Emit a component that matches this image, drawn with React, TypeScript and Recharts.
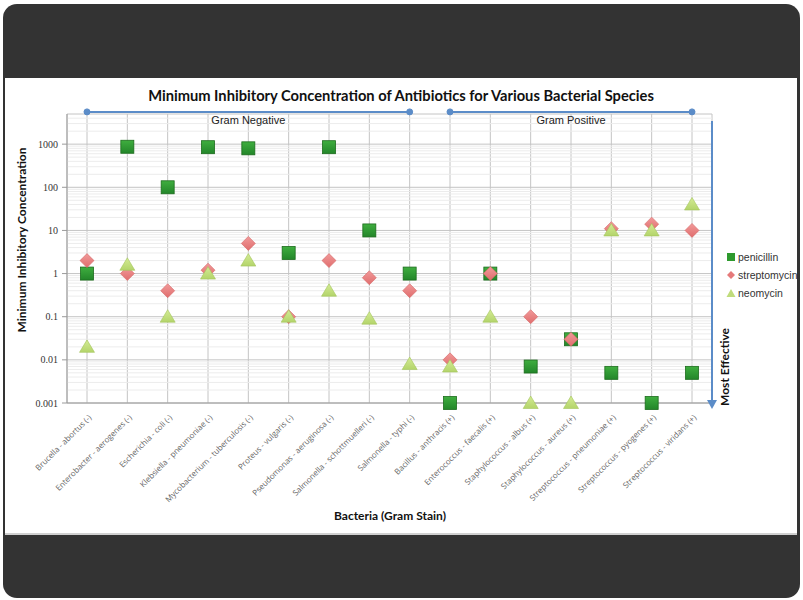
import React from 'react';
import {
  ComposedChart,
  Line,
  XAxis,
  YAxis,
  CartesianGrid,
  ReferenceLine,
  ReferenceDot,
} from 'recharts';

const categories = [
  'Brucella - abortus (-)',
  'Enterobacter - aerogenes (-)',
  'Escherichia - coli (-)',
  'Klebsiella - pneumoniae (-)',
  'Mycobacterium - tuberculosis (-)',
  'Proteus - vulgaris (-)',
  'Pseudomonas - aeruginosa (-)',
  'Salmonella - schottmuelleri (-)',
  'Salmonella - typhi (-)',
  'Bacillus - anthracis (+)',
  'Enterococcus - faecalis (+)',
  'Staphylococcus - albus (+)',
  'Staphylococcus - aureus (+)',
  'Streptococcus - pneumoniae (+)',
  'Streptococcus - pyogenes (+)',
  'Streptococcus - viridans (+)',
];

const penicillin = [1, 870, 100, 850, 800, 3, 850, 10, 1, 0.001, 1, 0.007, 0.03, 0.005, 0.001, 0.005];
const streptomycin = [2, 1, 0.4, 1.2, 5, 0.1, 2, 0.8, 0.4, 0.01, 1, 0.1, 0.03, 11, 14, 10];
const neomycin = [0.02, 1.6, 0.1, 1, 2, 0.1, 0.4, 0.09, 0.008, 0.007, 0.1, 0.001, 0.001, 10, 10, 40];

const yTicks = [0.001, 0.01, 0.1, 1, 10, 100, 1000];
const yTickLabels = ['0.001', '0.01', '0.1', '1', '10', '100', '1000'];
const yDomain = [0.001, 5000];
const minorTicks: number[] = [];
[0.001, 0.01, 0.1, 1, 10, 100, 1000].forEach((d) => {
  for (let m = 2; m <= 9; m++) {
    const v = d * m;
    if (v < 5000) minorTicks.push(v);
  }
});

const seriesNames = ['penicillin', 'streptomycin', 'neomycin'];
const groupNegative = { label: 'Gram Negative', from: 0, to: 8, mid: 4 };
const groupPositive = { label: 'Gram Positive', from: 9, to: 15, mid: 12 };
const bracketLevel = 5600;

const data = categories.map((name, i) => ({
  name,
  penicillin: penicillin[i],
  streptomycin: streptomycin[i],
  neomycin: neomycin[i],
}));

const BLUE = '#5b8cc8';

const SquareDot = (props: any) => {
  const { cx, cy, index } = props;
  if (cx == null || cy == null) return <g key={index} />;
  return (
    <rect key={index} x={cx - 6.5} y={cy - 6.5} width={13} height={13} fill="url(#gradSq)" stroke="#1c6b1c" strokeWidth={0.8} />
  );
};
const DiamondDot = (props: any) => {
  const { cx, cy, index } = props;
  if (cx == null || cy == null) return <g key={index} />;
  const r = 7;
  return (
    <path key={index} d={`M${cx},${cy - r}L${cx + r},${cy}L${cx},${cy + r}L${cx - r},${cy}Z`} fill="url(#gradDi)" stroke="#d56565" strokeWidth={0.6} />
  );
};
const TriangleDot = (props: any) => {
  const { cx, cy, index } = props;
  if (cx == null || cy == null) return <g key={index} />;
  return (
    <path key={index} d={`M${cx},${cy - 7}L${cx + 7.5},${cy + 5.5}L${cx - 7.5},${cy + 5.5}Z`} fill="url(#gradTr)" stroke="#a3c45a" strokeWidth={0.6} />
  );
};

const XTick = (props: any) => {
  const { x, y, payload } = props;
  return (
    <g transform={`translate(${x + 5},${y + 7})`}>
      <text
        x={0}
        y={0}
        transform="rotate(-45)"
        textAnchor="end"
        fontSize={8}
        fontFamily="'Open Sans', sans-serif"
        fill="#666"
      >
        {payload.value}
      </text>
    </g>
  );
};

const YTick = (props: any) => {
  const { x, y, payload } = props;
  const idx = yTicks.indexOf(payload.value);
  return (
    <text x={x - 2} y={y + 3.5} textAnchor="end" fontSize={10} fontFamily="'Liberation Serif', serif" fill="#333">
      {idx >= 0 ? yTickLabels[idx] : payload.value}
    </text>
  );
};

const LegendBox = () => (
  <div
    style={{
      position: 'absolute',
      left: 721,
      top: 170,
      fontFamily: "'Liberation Sans', Arial, sans-serif",
      fontSize: 10.5,
      color: '#333',
      lineHeight: '18px',
      whiteSpace: 'nowrap',
    }}
  >
    {seriesNames.map((n) => (
      <div key={n} style={{ display: 'flex', alignItems: 'center' }}>
        <svg width={10} height={10} style={{ marginRight: 2, flexShrink: 0 }}>
          {n === 'penicillin' && <rect x={1} y={1} width={8} height={8} fill="#2e9a2e" />}
          {n === 'streptomycin' && <path d="M5,1L9,5L5,9L1,5Z" fill="#e57a7a" />}
          {n === 'neomycin' && <path d="M5,1L9.5,9L0.5,9Z" fill="#c0dc7c" />}
        </svg>
        <span>{n}</span>
      </div>
    ))}
  </div>
);

const GroupLabel = (text: string) => (props: any) => {
  const { viewBox } = props;
  const cx = viewBox.x + (viewBox.width || 0) / 2;
  const cy = viewBox.y + (viewBox.height || 0) / 2;
  return (
    <text x={cx} y={cy + 12.5} textAnchor="middle" fontSize={11} fontFamily="'Liberation Sans', Arial, sans-serif" fill="#222">
      {text}
    </text>
  );
};

export default function App() {
  return (
    <div style={{ position: 'fixed', left: 0, top: 0, width: 803, height: 600, background: '#fff' }}>
      <div style={{ position: 'absolute', left: 3, top: 4, width: 797, height: 594, background: '#333333', borderRadius: 14 }} />
      <div style={{ position: 'absolute', left: 5, top: 78, width: 792, height: 455, background: '#fff', borderBottom: '2px solid #d0d0d0' }}>
        <ComposedChart width={792} height={455} data={data} margin={{ top: 36, right: 85, bottom: 20, left: 22 }}>
          <defs>
            <linearGradient id="gradSq" x1="0" y1="0" x2="0" y2="1">
              <stop offset="0%" stopColor="#3fae3f" />
              <stop offset="100%" stopColor="#23862a" />
            </linearGradient>
            <linearGradient id="gradDi" x1="0" y1="0" x2="0" y2="1">
              <stop offset="0%" stopColor="#f19a9a" />
              <stop offset="100%" stopColor="#e06d6d" />
            </linearGradient>
            <linearGradient id="gradTr" x1="0" y1="0" x2="0" y2="1">
              <stop offset="0%" stopColor="#d4eb95" />
              <stop offset="100%" stopColor="#b3d46a" />
            </linearGradient>
          </defs>
          {minorTicks.map((v) => (
            <ReferenceLine key={v} y={v} stroke="#ececec" strokeWidth={1} />
          ))}
          <CartesianGrid stroke="#c4c4c4" strokeWidth={1} />
          <XAxis
            dataKey="name"
            type="category"
            height={110}
            interval={0}
            padding={{ left: 20, right: 20 }}
            tick={<XTick />}
            tickLine={false}
            axisLine={{ stroke: '#9a9a9a' }}
          />
          <YAxis
            type="number"
            scale="log"
            domain={yDomain}
            ticks={yTicks}
            width={40}
            tick={<YTick />}
            tickSize={5}
            tickLine={{ stroke: '#9a9a9a' }}
            axisLine={{ stroke: '#9a9a9a' }}
          />
          <ReferenceLine
            ifOverflow="visible"
            segment={[
              { x: categories[groupNegative.from], y: bracketLevel },
              { x: categories[groupNegative.to], y: bracketLevel },
            ]}
            stroke={BLUE}
            strokeWidth={2}
          />
          <ReferenceLine
            ifOverflow="visible"
            segment={[
              { x: categories[groupPositive.from], y: bracketLevel },
              { x: categories[groupPositive.to], y: bracketLevel },
            ]}
            stroke={BLUE}
            strokeWidth={2}
          />
          {[groupNegative.from, groupNegative.to, groupPositive.from, groupPositive.to].map((i) => (
            <ReferenceDot key={'d' + i} ifOverflow="visible" x={categories[i]} y={bracketLevel} r={3} fill={BLUE} stroke={BLUE} />
          ))}
          <ReferenceDot ifOverflow="visible" x={categories[groupNegative.mid]} y={bracketLevel} r={0.01} fill="none" stroke="none" label={GroupLabel(groupNegative.label)} />
          <ReferenceDot ifOverflow="visible" x={categories[groupPositive.mid]} y={bracketLevel} r={0.01} fill="none" stroke="none" label={GroupLabel(groupPositive.label)} />
          <Line dataKey="penicillin" stroke="none" isAnimationActive={false} dot={<SquareDot />} activeDot={false} legendType="square" />
          <Line dataKey="streptomycin" stroke="none" isAnimationActive={false} dot={<DiamondDot />} activeDot={false} legendType="diamond" />
          <Line dataKey="neomycin" stroke="none" isAnimationActive={false} dot={<TriangleDot />} activeDot={false} legendType="triangle" />
        </ComposedChart>
        <LegendBox />
        <svg width={792} height={455} style={{ position: 'absolute', left: 0, top: 0, pointerEvents: 'none' }}>
          <text x={396} y={23} textAnchor="middle" fontSize={14.7} fontWeight="bold" fontFamily="Lato, 'Open Sans', sans-serif" fill="#111">
            Minimum Inhibitory Concentration of Antibiotics for Various Bacterial Species
          </text>
          <text x={385} y={442} textAnchor="middle" fontSize={12} fontWeight="bold" fontFamily="Lato, 'Open Sans', sans-serif" fill="#111">
            Bacteria (Gram Stain)
          </text>
          <text transform="translate(21,162) rotate(-90)" textAnchor="middle" fontSize={12} fontWeight="bold" fontFamily="Lato, 'Open Sans', sans-serif" fill="#111">
            Minimum Inhibitory Concentration
          </text>
          <line x1={707} y1={43} x2={707} y2={325} stroke={BLUE} strokeWidth={2} />
          <path d="M702,322L707,331L712,322Z" fill={BLUE} />
          <text transform="translate(724,289) rotate(-90)" textAnchor="middle" fontSize={12} fontWeight="bold" fontFamily="Lato, 'Open Sans', sans-serif" fill="#111">
            Most Effective
          </text>
        </svg>
      </div>
    </div>
  );
}
